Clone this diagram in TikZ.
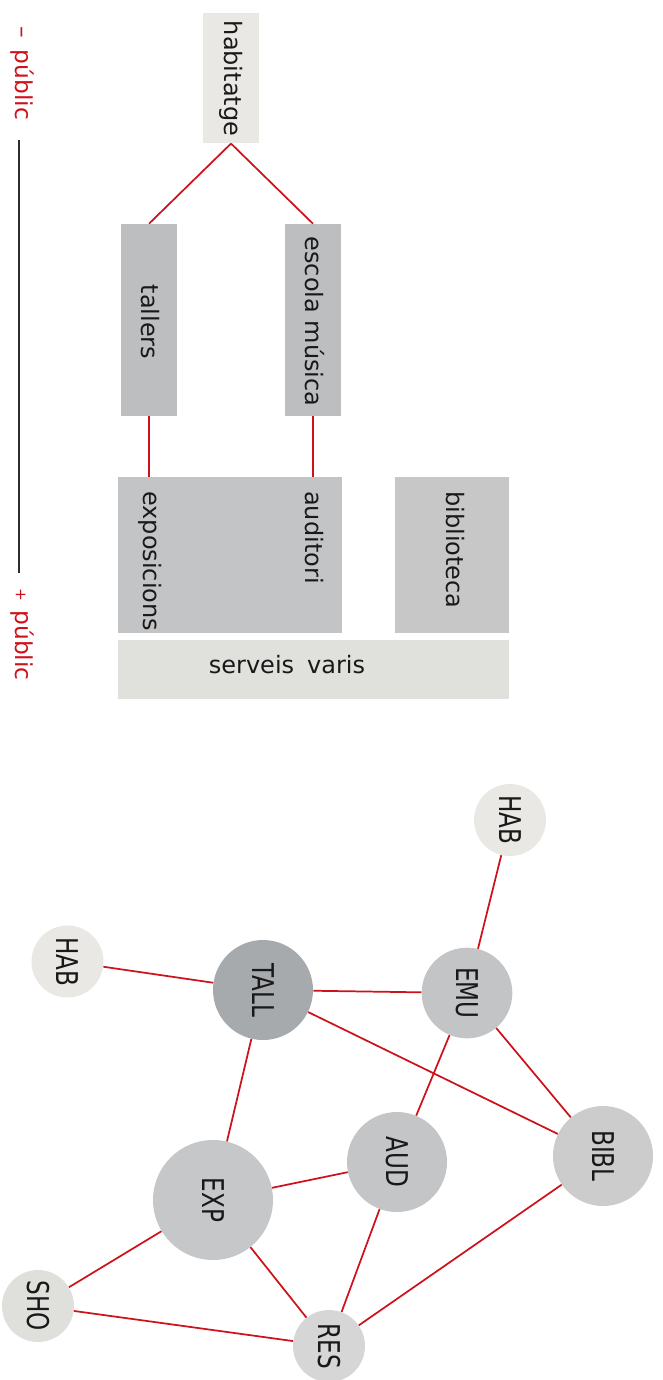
\documentclass[tikz,border=0pt]{standalone}
\usepackage{fontspec}
\setmainfont{DejaVu Sans}
\newfontfamily\circfont[FakeStretch=0.77]{DejaVu Sans}
\definecolor{linkred}{RGB}{206,18,28}
\definecolor{txt}{RGB}{25,25,25}
\definecolor{axisc}{RGB}{45,45,45}
\definecolor{habc}{RGB}{233,232,228}
\definecolor{midc}{RGB}{189,190,192}
\definecolor{bigc}{RGB}{195,196,198}
\definecolor{bibboxc}{RGB}{199,199,199}
\definecolor{servc}{RGB}{224,225,220}
\definecolor{tallc}{RGB}{167,170,173}
\definecolor{emuc}{RGB}{195,196,198}
\definecolor{audc}{RGB}{196,197,199}
\definecolor{biblc}{RGB}{204,204,204}
\definecolor{expc}{RGB}{198,199,201}
\definecolor{shoc}{RGB}{223,224,220}
\definecolor{resc}{RGB}{214,214,214}
\begin{document}
\begin{tikzpicture}[x=0.75pt,y=-0.75pt,
  box/.style={rectangle, draw=none, inner sep=0pt},
  lbl/.style={inner sep=0pt, font=\fontsize{18}{20}\selectfont, text=txt},
  rlbl/.style={lbl, rotate=-90},
  side/.style={inner sep=0pt, rotate=-90, font=\fontsize{17.5}{19}\selectfont, text=linkred},
  circ/.style={circle, inner sep=0pt, rotate=-90, font=\circfont\fontsize{22.5}{24}\selectfont, text=txt},
  link/.style={draw=linkred, line width=1.3pt}]
\useasboundingbox (0,0) rectangle (662,1380);

% side scale
\node[side, anchor=mid west] (minus) at (19.5,26) {–\hspace{9pt}públic};
\node[side, anchor=mid west] (plus) at (19.5,588) {{\fontsize{11.5}{12}\selectfont +}\hspace{7pt}públic};
\coordinate (ltop) at (18.7,140);
\coordinate (lbot) at (18.7,573);
\draw[draw=axisc, line width=1.6pt] (ltop) -- (lbot);

% boxes
\node[box, fill=habc, minimum width=42.45pt, minimum height=97.95pt] (habbox) at (231,78) {};
\node[box, fill=midc, minimum width=42.45pt, minimum height=143.8pt] (talbox) at (149,319.85) {};
\node[box, fill=midc, minimum width=42.45pt, minimum height=143.8pt] (escbox) at (313,319.85) {};
\node[box, fill=bigc, minimum width=168.45pt, minimum height=117pt] (expbox) at (230,555.3) {};
\node[box, fill=bibboxc, minimum width=85.7pt, minimum height=117pt] (bibbox) at (452.15,555.3) {};
\node[box, fill=servc, minimum width=293.7pt, minimum height=44.5pt] (servbox) at (313.5,669.65) {};

% box labels
\node[rlbl, anchor=mid] (habt) at (228,78.5) {habitatge};
\node[rlbl, anchor=mid] (talt) at (145,322) {tallers};
\node[rlbl, anchor=mid] (esct) at (309,321.5) {escola música};
\node[rlbl, anchor=mid west] (expt) at (147.5,491) {exposicions};
\node[rlbl, anchor=mid west] (audt) at (309,491) {auditori};
\node[rlbl, anchor=mid west] (bibt) at (450,491) {biblioteca};
\node[lbl, anchor=mid] (servt) at (287,670) {serveis\hspace{4pt} varis};

% top connectors
\draw[link] (habbox.south) -- (talbox.north);
\draw[link] (habbox.south) -- (escbox.north);
\draw[link] (talbox.south) -- (talbox.south |- expbox.north);
\draw[link] (escbox.south) -- (escbox.south |- expbox.north);

% graph
\node[circ, fill=habc, minimum size=54pt] (hab1) at (510,820) {HAB};
\node[circ, fill=habc, minimum size=54pt] (hab2) at (67.5,961.5) {HAB};
\node[circ, fill=tallc, minimum size=75pt] (tall) at (263,990) {TALL};
\node[circ, fill=emuc, minimum size=68pt] (emu) at (467,993) {EMU};
\node[circ, fill=audc, minimum size=75pt] (aud) at (397,1162) {AUD};
\node[circ, fill=biblc, minimum size=75pt] (bibl) at (603,1156) {BIBL};
\node[circ, fill=expc, minimum size=90pt] (exp) at (213,1200) {EXP};
\node[circ, fill=shoc, minimum size=54pt] (sho) at (38,1306) {SHO};
\node[circ, fill=resc, minimum size=54pt] (res) at (329,1346) {RES};

\draw[link] (hab1) -- (emu);
\draw[link] (hab2) -- (tall);
\draw[link] (tall) -- (emu);
\draw[link] (tall) -- (bibl);
\draw[link] (tall) -- (exp);
\draw[link] (emu) -- (aud);
\draw[link] (emu) -- (bibl);
\draw[link] (aud) -- (exp);
\draw[link] (aud) -- (res);
\draw[link] (bibl) -- (res);
\draw[link] (exp) -- (sho);
\draw[link] (exp) -- (res);
\draw[link] (sho) -- (res);
\end{tikzpicture}
\end{document}
